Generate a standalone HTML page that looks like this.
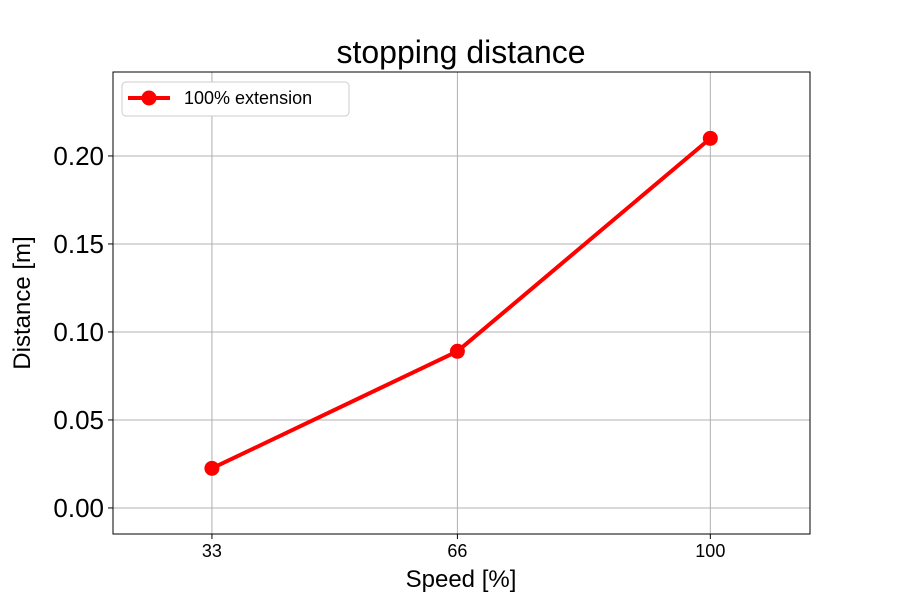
<!DOCTYPE html>
<html><head><meta charset="utf-8"><style>
body{margin:0;background:#fff;}
svg{display:block;font-family:"Liberation Sans","DejaVu Sans",sans-serif;}
</style></head><body>
<svg id="chart" width="900" height="600">
<text x="461" y="63" font-size="32" text-anchor="middle">stopping distance</text>
<g id="grid"></g><g id="axes"></g><g id="series"></g>
<rect x="113" y="72" width="697" height="462" fill="none" stroke="#000" stroke-width="1"/>
<text x="461" y="587" font-size="24" text-anchor="middle">Speed [%]</text>
<text x="30" y="303" font-size="24" text-anchor="middle" transform="rotate(-90 30 303)">Distance [m]</text>
<g>
<rect x="122" y="82" width="227" height="34" rx="4" fill="#fff" stroke="#ccc"/>
<line x1="128" y1="98" x2="170" y2="98" stroke="#ff0000" stroke-width="4"/>
<circle cx="149" cy="98" r="7.5" fill="#ff0000"/>
<text x="184" y="104" font-size="18">100% extension</text>
</g>
</svg>
<script>
const categories=[33,66,100];
const distances=[0.0225,0.089,0.21];
const yTicks=[0,0.05,0.1,0.15,0.2];
const yTickLabels=["0.00","0.05","0.10","0.15","0.20"];
const xTickLabels=["33","66","100"];
const X0=113,X1=810,Y0=72,Y1=534;
const xMin=19.7,xMax=113.4,yMin=-0.0148,yMax=0.2477;
const xs=v=>X0+(v-xMin)/(xMax-xMin)*(X1-X0);
const ys=v=>Y1-(v-yMin)/(yMax-yMin)*(Y1-Y0);
const NS="http://www.w3.org/2000/svg";
function mk(tag,attrs,parent){const e=document.createElementNS(NS,tag);for(const k in attrs)e.setAttribute(k,attrs[k]);document.getElementById(parent).appendChild(e);return e;}
yTicks.forEach((t,i)=>{
 const y=ys(t);
 const g=mk('line',{x1:X0,x2:X1,y1:y,y2:y,stroke:'#b0b0b0','stroke-width':1},'grid');
 
 
 const tk=mk('line',{x1:X0-5,x2:X0,y1:y,y2:y,stroke:'#000'},'axes');
 
 
 const tx=mk('text',{x:X0-9,y:y+9,'font-size':26,'text-anchor':'end'},'axes');
 tx.textContent=yTickLabels[i];
 
 
});
categories.forEach((c,i)=>{
 const x=xs(c);
 const g=mk('line',{x1:x,x2:x,y1:Y0,y2:Y1,stroke:'#b0b0b0','stroke-width':1},'grid');
 
 
 const tk=mk('line',{x1:x,x2:x,y1:Y1,y2:Y1+5,stroke:'#000'},'axes');
 
 
 const tx=mk('text',{x:x,y:Y1+23,'font-size':18,'text-anchor':'middle'},'axes');
 tx.textContent=xTickLabels[i];
 
 
});
const pts=categories.map((c,i)=>xs(c)+','+ys(distances[i])).join(' ');
const pl=mk('polyline',{points:pts,fill:'none',stroke:'#ff0000','stroke-width':4,'stroke-linejoin':'round'},'series');


categories.forEach((c,i)=>{
 const p=mk('circle',{cx:xs(c),cy:ys(distances[i]),r:7.5,fill:'#ff0000'},'series');
 
 
});
</script>
</body></html>
